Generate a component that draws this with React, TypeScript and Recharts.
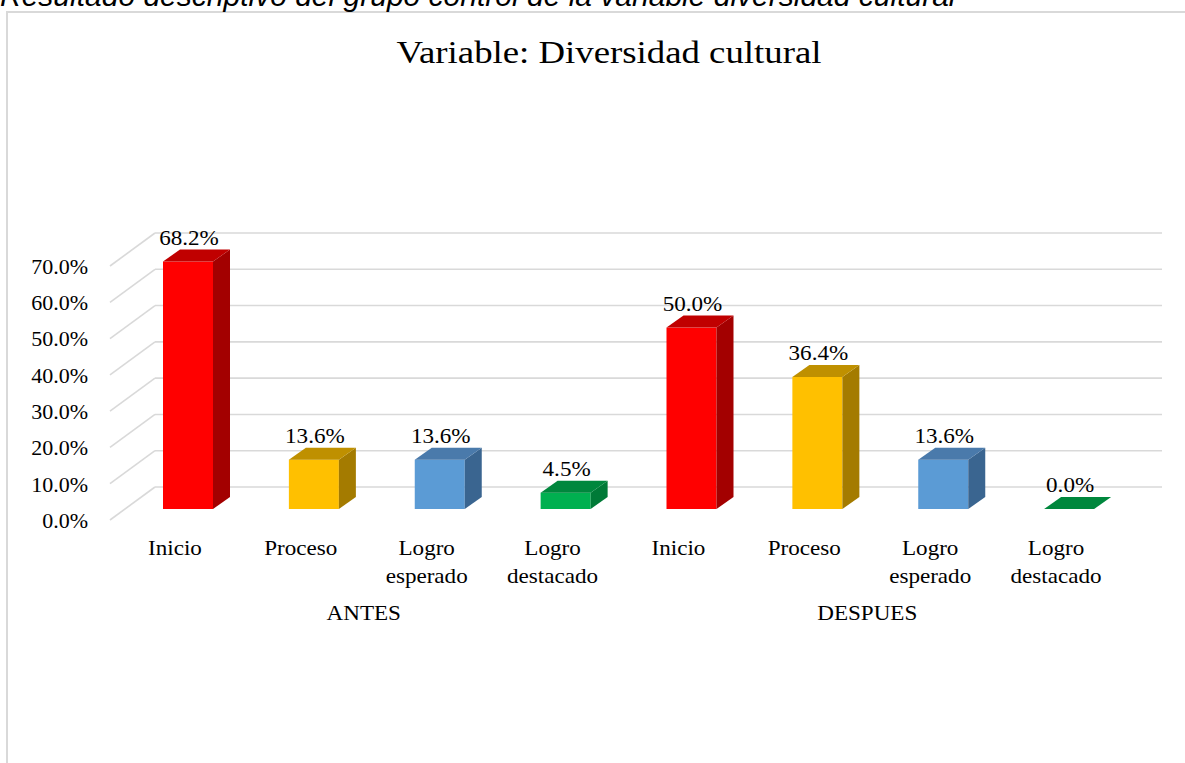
import { Bar, BarChart, CartesianGrid, LabelList, XAxis, YAxis } from "recharts";

const categories = [
  "Inicio",
  "Proceso",
  "Logro esperado",
  "Logro destacado",
  "Inicio",
  "Proceso",
  "Logro esperado",
  "Logro destacado",
];
const groups = ["ANTES", "DESPUES"];
const values = [0.682, 0.136, 0.136, 0.045, 0.5, 0.364, 0.136, 0.0];
const yTicks = [0, 0.1, 0.2, 0.3, 0.4, 0.5, 0.6, 0.7];

const caption = "Resultado descriptivo del grupo control de la variable diversidad cultural";
const title = "Variable: Diversidad cultural";

const data = categories.map((c, i) => ({ key: `${c}-${i}`, name: c, value: values[i] }));

// front, side, top
const FACES = [
  ["#ff0000", "#a30000", "#c00000"],
  ["#ffc000", "#a47b00", "#bf9000"],
  ["#5b9bd5", "#3a6590", "#4a7aab"],
  ["#00b050", "#007a37", "#00873d"],
];

const W = 1185;
const H = 763;
const PLOT_L = 110;
const PLOT_R = 1117;
const PLOT_T = 266;
const PLOT_B = 520;
const DX = 45; // wall depth
const DY = 33;
const BAR_OX = 15; // bar front offset inside depth
const BAR_OY = 11;
const BAR_DX = 17; // bar depth
const BAR_DY = 12;
const SERIF = '"Liberation Serif", "Times New Roman", serif';
const GRID = "#d9d9d9";
const STRETCH = 1.1;

const pct = (v: number) => `${(v * 100).toFixed(1)}%`;

const GridLine = (p: any) => {
  const { x1, x2, y1 } = p;
  return (
    <g key={p.key}>
      <line x1={x1} y1={y1} x2={x1 + DX} y2={y1 - DY} stroke={GRID} strokeWidth={1.6} />
      <line x1={x1 + DX} y1={y1 - DY} x2={x2 + DX} y2={y1 - DY} stroke={GRID} strokeWidth={1.6} />
    </g>
  );
};

const Bar3D = (p: any) => {
  const { x, y, width, height, index } = p;
  const [front, side, top] = FACES[index % 4];
  const fx = x + BAR_OX;
  const fy = y - BAR_OY;
  const h = Math.max(height, 0);
  return (
    <g>
      {h > 0 && <rect x={fx} y={fy} width={width} height={h} fill={front} />}
      {h > 0 && (
        <polygon
          points={`${fx + width},${fy} ${fx + width + BAR_DX},${fy - BAR_DY} ${fx + width + BAR_DX},${fy - BAR_DY + h} ${fx + width},${fy + h}`}
          fill={side}
        />
      )}
      <polygon
        points={`${fx},${fy} ${fx + width},${fy} ${fx + width + BAR_DX},${fy - BAR_DY} ${fx + BAR_DX},${fy - BAR_DY}`}
        fill={top}
      />
    </g>
  );
};

const Stretched = ({ x, y, size, children }: any) => (
  <text
    transform={`translate(${x},${y}) scale(${STRETCH},1)`}
    textAnchor="middle"
    fontFamily={SERIF}
    fontSize={size}
    fill="#000"
  >
    {children}
  </text>
);

const ValueLabel = (p: any) => {
  const { x, y, width, value } = p;
  return (
    <Stretched x={x + BAR_OX + width / 2 + 1} y={y - BAR_OY - BAR_DY - 5} size={21}>
      {pct(value)}
    </Stretched>
  );
};

const CatTick = (p: any) => {
  const { x, index } = p;
  const words = String(data[index]?.name ?? "").split(" ");
  return (
    <g>
      {words.map((w, i) => (
        <Stretched key={i} x={x + 2} y={PLOT_B + 35 + i * 28} size={21}>
          {w}
        </Stretched>
      ))}
    </g>
  );
};

export default function App() {
  const band = (PLOT_R - PLOT_L) / categories.length;
  const perGroup = categories.length / groups.length;
  return (
    <div style={{ position: "fixed", left: 0, top: 0, width: W, height: H, background: "#fff", overflow: "hidden" }}>
      <div
        style={{
          position: "absolute",
          left: 6,
          top: 11,
          width: W,
          height: H,
          borderLeft: `2px solid ${GRID}`,
          borderTop: `2px solid ${GRID}`,
        }}
      />
      <svg width={W} height={H} style={{ position: "absolute", left: 0, top: 0 }}>
        <text x={0} y={6} fontFamily='"Liberation Sans", Arial, sans-serif' fontStyle="italic" fontSize={30} fill="#000">
          {caption}
        </text>
        <text
          transform={`translate(609,63) scale(1.15,1)`}
          textAnchor="middle"
          fontFamily={SERIF}
          fontSize={32}
          fill="#000"
        >
          {title}
        </text>
        {groups.map((g, i) => (
          <Stretched key={g} x={PLOT_L + band * perGroup * (i + 0.5) + 2} y={620} size={21}>
            {g}
          </Stretched>
        ))}
      </svg>
      <div style={{ position: "absolute", left: 0, top: 0 }}>
        <BarChart
          width={W}
          height={H}
          data={data}
          margin={{ top: PLOT_T, right: W - PLOT_R, bottom: 0, left: 0 }}
        >
          <CartesianGrid vertical={false} horizontal={GridLine} />
          <YAxis
            width={PLOT_L}
            domain={[0, 0.7]}
            ticks={yTicks}
            tickFormatter={pct}
            axisLine={false}
            tickLine={false}
            tickSize={0}
            tickMargin={22}
            tick={{ fontFamily: SERIF, fontSize: 22, fill: "#000" }}
          />
          <XAxis
            dataKey="key"
            height={H - PLOT_B}
            axisLine={false}
            tickLine={false}
            interval={0}
            tick={CatTick}
          />
          <Bar dataKey="value" barSize={50} shape={Bar3D} isAnimationActive={false}>
            <LabelList dataKey="value" content={ValueLabel} />
          </Bar>
        </BarChart>
      </div>
    </div>
  );
}
